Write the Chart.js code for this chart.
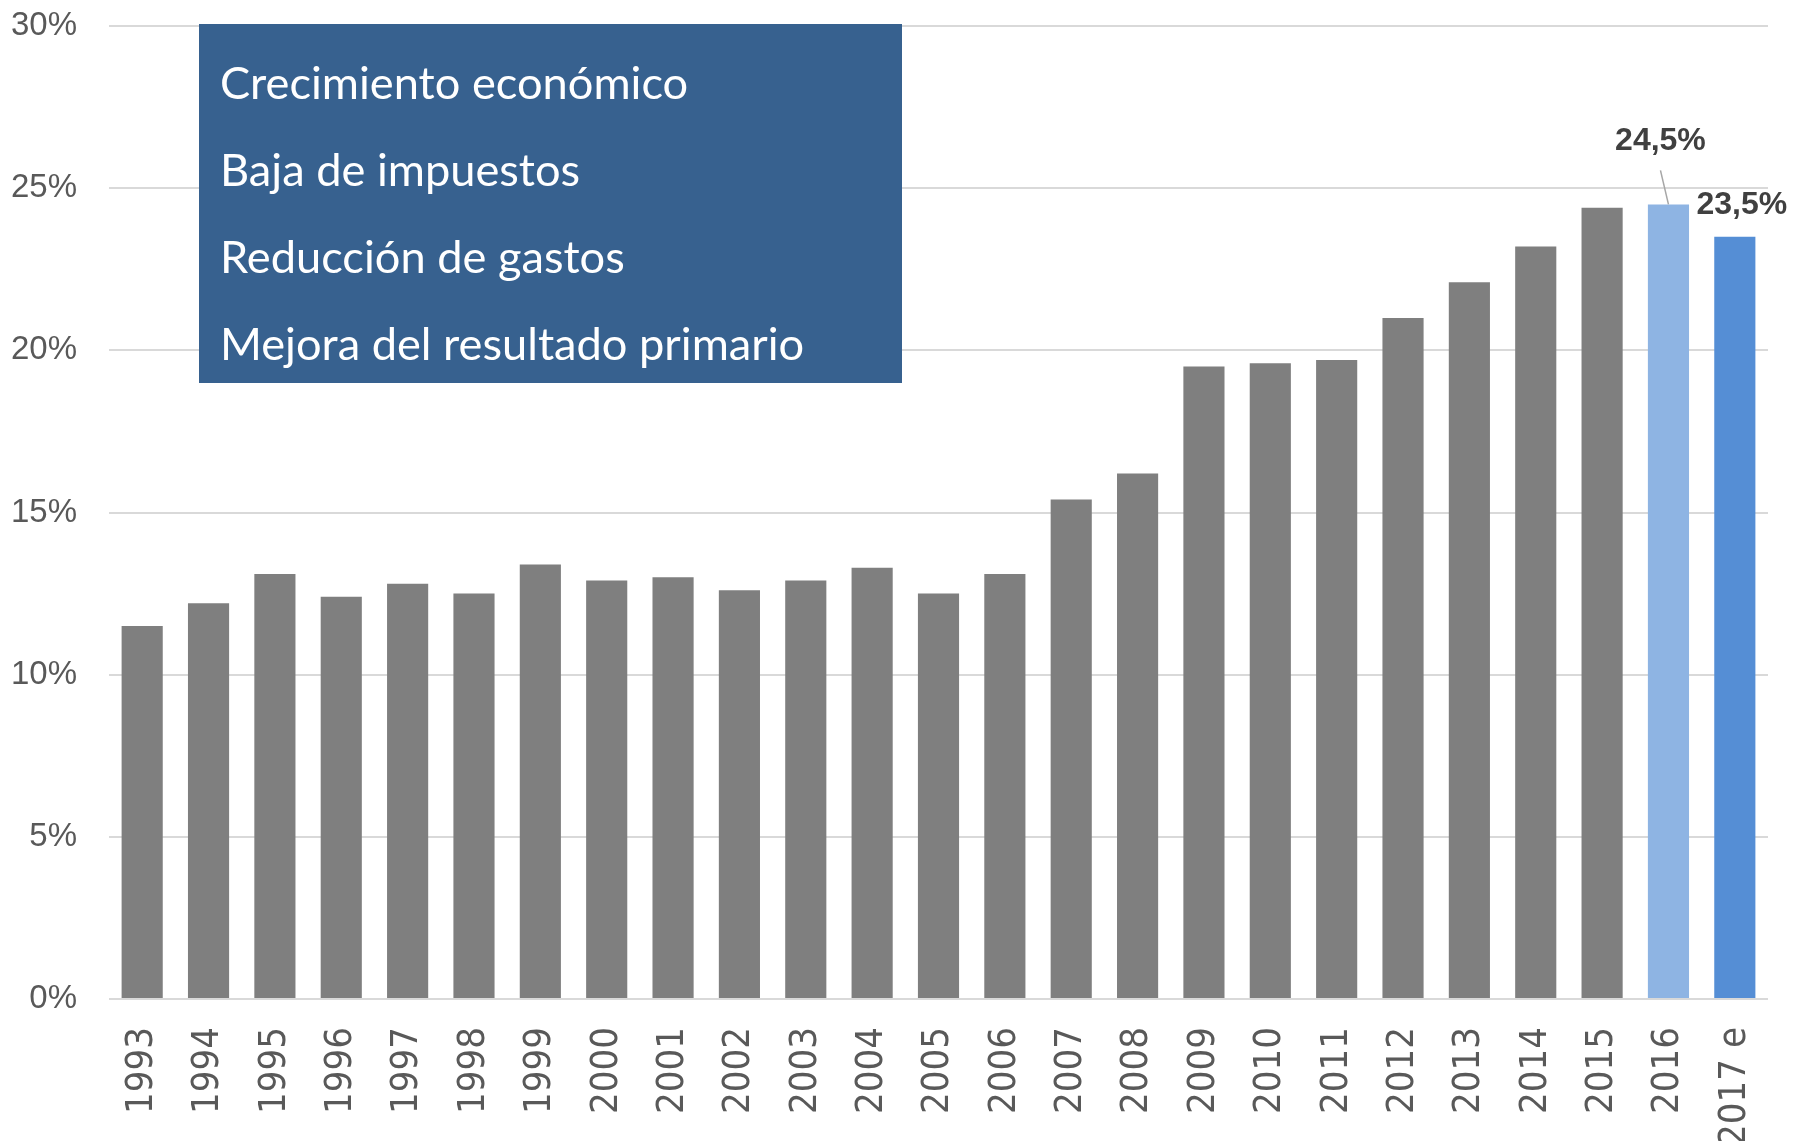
<!DOCTYPE html>
<html>
<head>
<meta charset="utf-8">
<script src="https://cdn.jsdelivr.net/npm/chart.js@4.4.0/dist/chart.umd.min.js"></script>
<style>
  html, body { margin: 0; padding: 0; background: #ffffff; }
  #wrap { width: 1793px; height: 1141px; position: relative; }
</style>
</head>
<body>
<div id="wrap"><canvas id="c" width="1793" height="1141"></canvas></div>
<script>
// ---- data ----
const categories = ['1993','1994','1995','1996','1997','1998','1999','2000','2001','2002','2003','2004','2005','2006','2007','2008','2009','2010','2011','2012','2013','2014','2015','2016','2017 e'];
const values = [11.5, 12.2, 13.1, 12.4, 12.8, 12.5, 13.4, 12.9, 13.0, 12.6, 12.9, 13.3, 12.5, 13.1, 15.4, 16.2, 19.5, 19.6, 19.7, 21.0, 22.1, 23.2, 24.4, 24.5, 23.5];
const yTicks = [0, 5, 10, 15, 20, 25, 30];
const boxLines = ['Crecimiento económico', 'Baja de impuestos', 'Reducción de gastos', 'Mejora del resultado primario'];
const labelled = [{ index: 23, text: '24,5%' }, { index: 24, text: '23,5%' }];

const barColors = categories.map((c, i) => i === 23 ? '#8EB4E3' : (i === 24 ? '#558ED5' : '#7F7F7F'));

const overlayPlugin = {
  id: 'overlay',
  afterDatasetsDraw(chart) {
    const ctx = chart.ctx;
    const meta = chart.getDatasetMeta(0);
    ctx.save();
    // value labels
    ctx.fillStyle = '#404040';
    ctx.font = 'bold 32px "Liberation Sans", Arial, sans-serif';
    ctx.textAlign = 'center';
    ctx.textBaseline = 'middle';
    const b16 = meta.data[labelled[0].index];
    ctx.strokeStyle = '#a6a6a6';
    ctx.lineWidth = 1.5;
    ctx.beginPath();
    ctx.moveTo(b16.x, b16.y);
    ctx.lineTo(b16.x - 8, b16.y - 34);
    ctx.stroke();
    ctx.fillText(labelled[0].text, b16.x - 8, b16.y - 63);
    const b17 = meta.data[labelled[1].index];
    ctx.fillText(labelled[1].text, b17.x + 7, b17.y - 32);

    // text box
    ctx.fillStyle = '#37618F';
    ctx.fillRect(199, 24, 703, 359);
    ctx.fillStyle = '#ffffff';
    ctx.textAlign = 'left';
    ctx.textBaseline = 'alphabetic';
    ctx.font = '40px Lato, "Open Sans", sans-serif';
    const w = ctx.measureText(boxLines[3]).width;
    const size = 40 * 585 / w;
    ctx.font = size.toFixed(1) + 'px Lato, "Open Sans", sans-serif';
    boxLines.forEach((t, i) => ctx.fillText(t, 220, 99 + i * 87));
    ctx.restore();
  }
};

new Chart(document.getElementById('c'), {
  type: 'bar',
  data: {
    labels: categories,
    datasets: [{
      data: values,
      backgroundColor: barColors,
      borderWidth: 0,
      barPercentage: 0.62,
      categoryPercentage: 1.0
    }]
  },
  options: {
    responsive: false,
    animation: false,
    layout: { padding: { top: 26, right: 25, left: 0, bottom: 0 } },
    plugins: { legend: { display: false }, tooltip: { enabled: false } },
    scales: {
      x: {
        grid: { display: false, drawTicks: false },
        border: { display: false },
        ticks: {
          color: '#595959',
          font: { family: '"DejaVu Sans Condensed", "DejaVu Sans", sans-serif', size: 38 },
          minRotation: 90, maxRotation: 90, autoSkip: false, padding: 28
        },
        afterFit(s) { s.height = 142; s.paddingLeft = 0; s.paddingRight = 0; s.paddingTop = 0; s.paddingBottom = 0; }
      },
      y: {
        min: 0, max: 30,
        afterBuildTicks(s) { s.ticks = yTicks.map(v => ({ value: v })); },
        grid: { color: '#d9d9d9', lineWidth: 2, drawTicks: false },
        border: { display: false },
        ticks: {
          color: '#595959',
          font: { family: '"Liberation Sans", Arial, sans-serif', size: 33 },
          padding: 32,
          callback: v => v + '%'
        },
        afterFit(s) { s.width = 109; s.paddingLeft = 0; s.paddingRight = 0; s.paddingTop = 0; s.paddingBottom = 0; }
      }
    }
  },
  plugins: [overlayPlugin]
});
</script>
</body>
</html>
